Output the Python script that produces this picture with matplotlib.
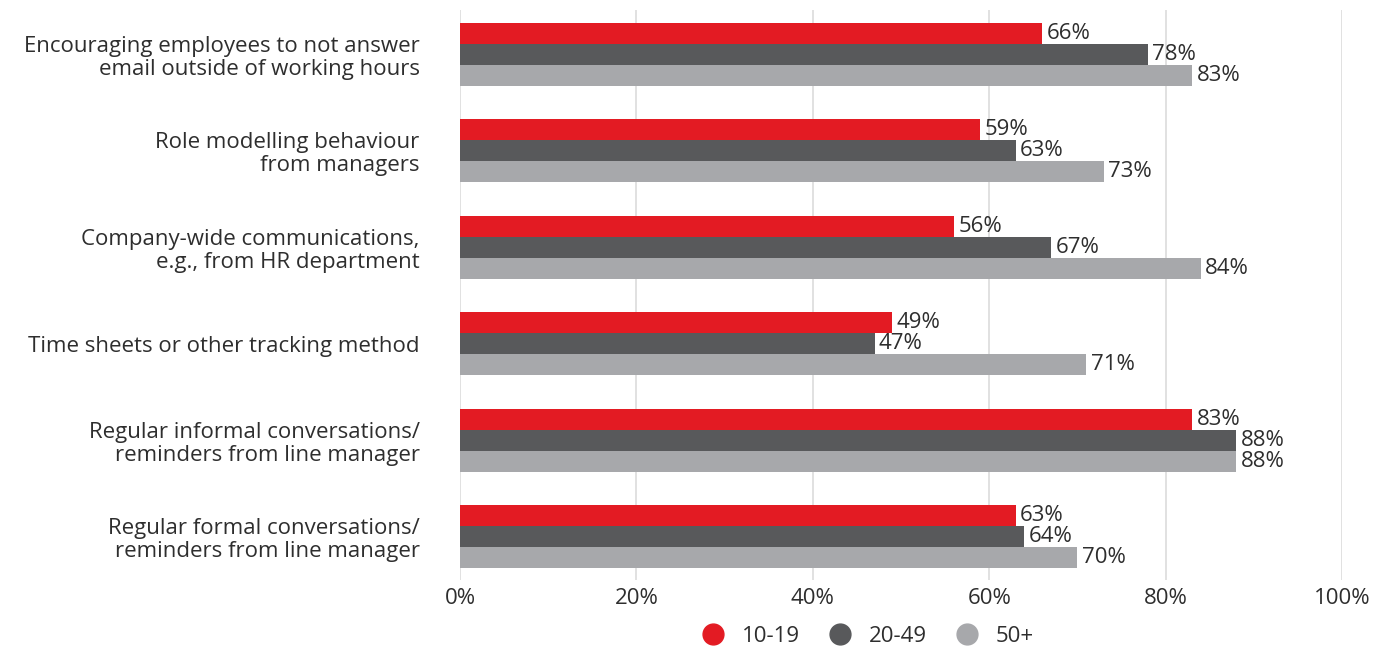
import matplotlib
matplotlib.use("Agg")
import matplotlib.pyplot as plt
import numpy as np
from matplotlib.lines import Line2D

plt.rcParams['font.family'] = ['Open Sans', 'DejaVu Sans']

categories = [
    "Encouraging employees to not answer\nemail outside of working hours",
    "Role modelling behaviour\nfrom managers",
    "Company-wide communications,\ne.g., from HR department",
    "Time sheets or other tracking method",
    "Regular informal conversations/\nreminders from line manager",
    "Regular formal conversations/\nreminders from line manager",
]
series_names = ["10-19", "20-49", "50+"]
values_10_19 = [66, 59, 56, 49, 83, 63]
values_20_49 = [78, 63, 67, 47, 88, 64]
values_50_plus = [83, 73, 84, 71, 88, 70]
ticks = [0, 20, 40, 60, 80, 100]
tick_labels = ["0%", "20%", "40%", "60%", "80%", "100%"]

colors = ["#E31B23", "#58595B", "#A7A8AB"]
text_color = "#2E2E2E"
fs = 16

fig = plt.figure(figsize=(13.88, 6.46), dpi=100)
ax = fig.add_axes([460 / 1388, 1 - 580 / 646, (1342 - 460) / 1388, (580 - 10) / 646])

y = np.arange(len(categories))
h = 0.218
all_series = [values_10_19, values_20_49, values_50_plus]
for i, (vals, col) in enumerate(zip(all_series, colors)):
    pos = y + (i - 1) * h
    ax.barh(pos, vals, height=h, color=col, zorder=3)
    for p, v in zip(pos, vals):
        ax.text(v + 0.5, p, f"{v}%", va="center", ha="left",
                fontsize=fs, color=text_color, zorder=4)

ax.set_xlim(0, 100)
ax.set_ylim(5.45, -0.46)
ax.set_xticks(ticks)
ax.set_xticklabels(tick_labels, fontsize=fs, color=text_color)
ax.set_yticks(y)
ax.set_yticklabels(categories, fontsize=fs, color=text_color, linespacing=1.12)
ax.tick_params(axis="both", length=0)
ax.tick_params(axis="y", pad=29)
ax.tick_params(axis="x", pad=6)
for lbl in ax.get_yticklabels():
    lbl.set_horizontalalignment("right")
ax.grid(axis="x", color="#DCDCDC", linewidth=1.2, zorder=0)
for s in ax.spines.values():
    s.set_visible(False)

handles = [Line2D([0], [0], marker="o", linestyle="", markersize=15,
                  markerfacecolor=c, markeredgecolor=c) for c in colors]
fig.legend(handles, series_names, loc="center", bbox_to_anchor=(862 / 1388, 1 - 636 / 646),
           ncol=3, frameon=False, fontsize=fs, handletextpad=0.3, columnspacing=0.8,
           labelcolor=text_color)

fig.savefig("out.png", dpi=100)
